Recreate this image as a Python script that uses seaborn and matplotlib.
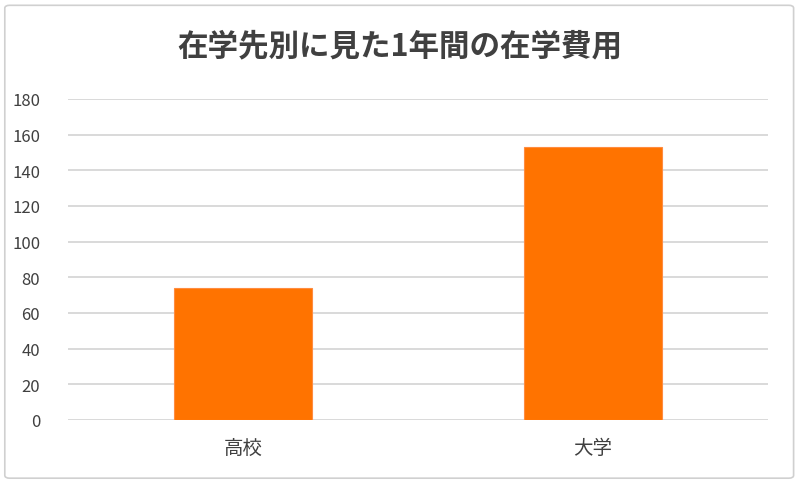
import matplotlib
matplotlib.use('Agg')
import matplotlib.pyplot as plt
import pandas as pd
import seaborn as sns
from matplotlib.patches import FancyBboxPatch

# data
categories = ['高校', '大学']
costs = [74, 153]
y_ticks = [0, 20, 40, 60, 80, 100, 120, 140, 160, 180]
title = '在学先別に見た1年間の在学費用'

df = pd.DataFrame({'school': categories, 'cost': costs})

sns.set_theme(style='white')
plt.rcParams['font.family'] = ['Noto Sans CJK JP', 'DejaVu Sans']

fig = plt.figure(figsize=(8, 4.85), dpi=100)
ax = fig.add_axes([0.085, 0.132, 0.875, 0.662])

# chart frame like the spreadsheet chart box
frame = FancyBboxPatch((0.006, 0.012), 0.986, 0.975, boxstyle='round,pad=0,rounding_size=0.006',
                       transform=fig.transFigure, facecolor='none', edgecolor='#d0d0d0',
                       linewidth=1.2, zorder=0)
fig.patches.append(frame)

sns.barplot(data=df, x='school', y='cost', ax=ax, color='#ff7300', width=0.395,
            saturation=1, edgecolor='#ff8c40', linewidth=0.8, zorder=3)

ax.set_ylim(0, 180)
ax.set_xlim(-0.5, 1.5)
ax.set_yticks(y_ticks)
ax.yaxis.grid(True, color='#d9d9d9', linewidth=1.4)
ax.set_axisbelow(True)
for s in ax.spines.values():
    s.set_visible(False)
ax.tick_params(axis='y', length=0, pad=20, labelsize=12, labelcolor='#404040')
ax.tick_params(axis='x', length=0, pad=12, labelsize=14, labelcolor='#404040')
ax.set_xlabel('')
ax.set_ylabel('')

fig.text(0.5, 0.905, title, ha='center', va='center', fontsize=22,
         fontweight='bold', color='#404040')

fig.savefig('out.png', dpi=100)
